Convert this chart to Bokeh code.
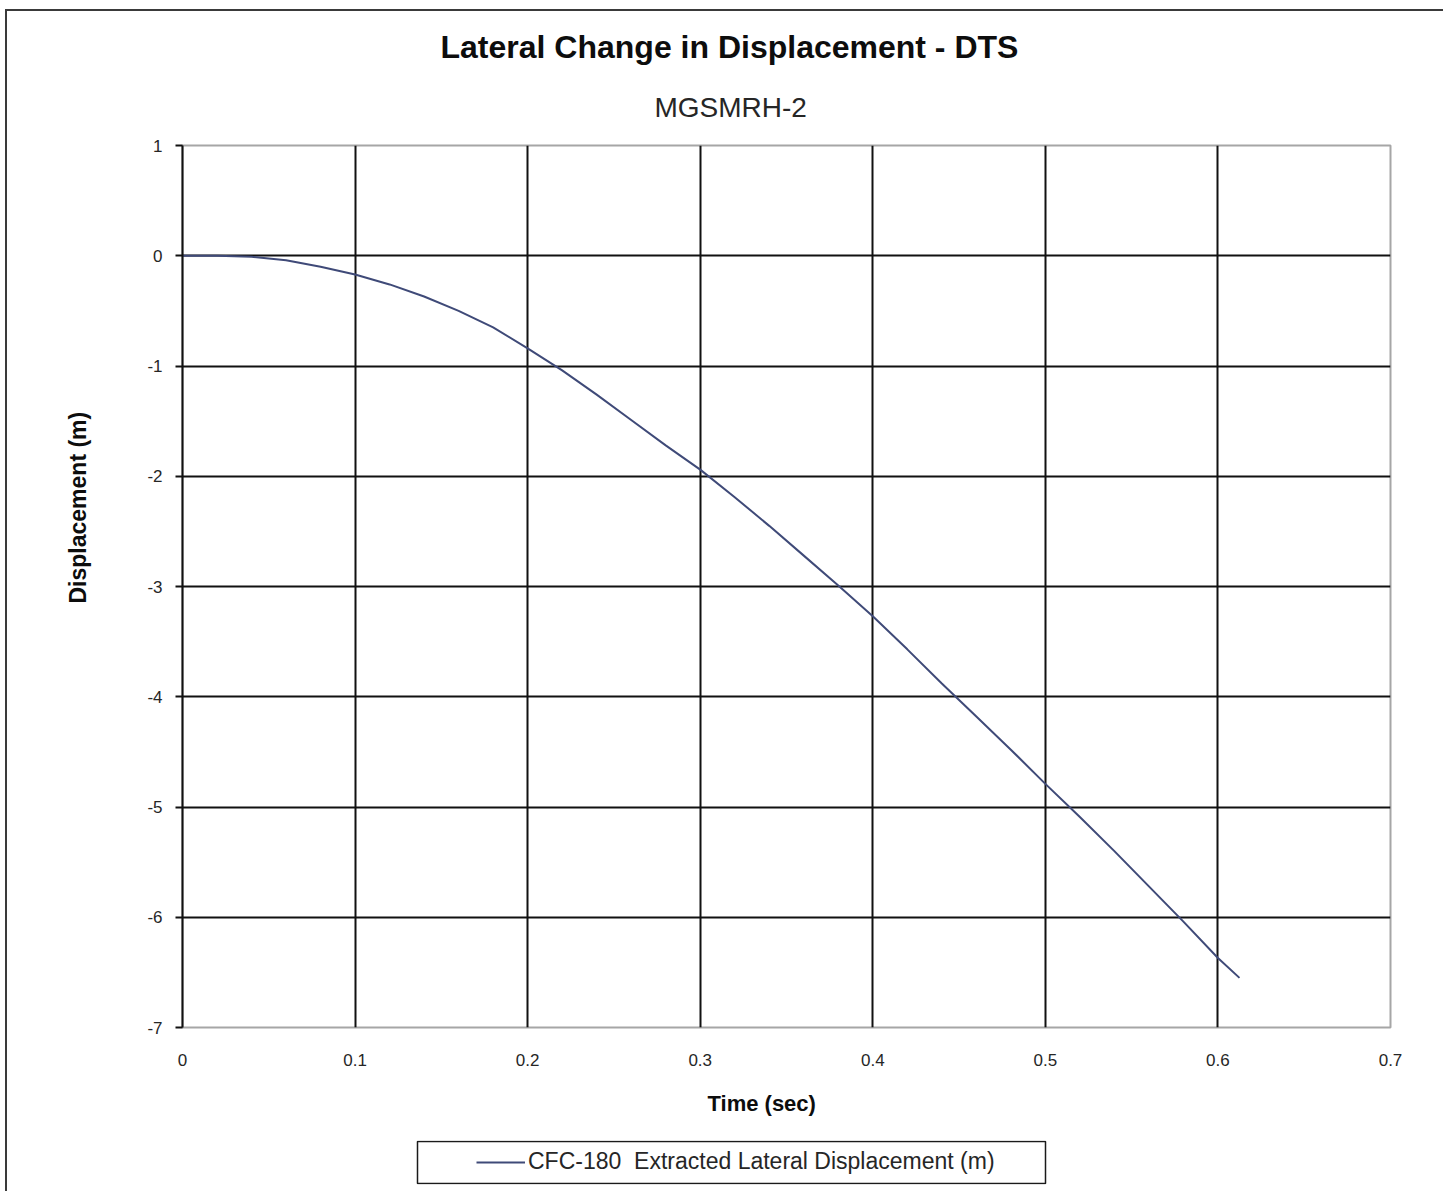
from bokeh.plotting import figure
from bokeh.layouts import column
from bokeh.models import (Range1d, FixedTicker, Legend, LegendItem, Title,
                          BoxAnnotation)
from bokeh.embed import file_html
from bokeh.resources import INLINE

# ---- data ----
time_s = [0.0, 0.02, 0.04, 0.06, 0.08, 0.10, 0.12, 0.14, 0.16, 0.18, 0.20,
          0.22, 0.24, 0.26, 0.28, 0.30, 0.32, 0.34, 0.36, 0.38, 0.40, 0.42,
          0.44, 0.46, 0.48, 0.50, 0.52, 0.54, 0.56, 0.58, 0.60, 0.6125]
disp_m = [0.0, 0.0, -0.01, -0.04, -0.10, -0.17, -0.26, -0.37, -0.50, -0.65,
          -0.84, -1.04, -1.26, -1.49, -1.72, -1.94, -2.19, -2.45, -2.72,
          -2.99, -3.27, -3.57, -3.88, -4.18, -4.48, -4.79, -5.09, -5.40,
          -5.72, -6.04, -6.37, -6.55]
x_ticks = [0, 0.1, 0.2, 0.3, 0.4, 0.5, 0.6, 0.7]
x_tick_labels = ["0", "0.1", "0.2", "0.3", "0.4", "0.5", "0.6", "0.7"]
y_ticks = [-7, -6, -5, -4, -3, -2, -1, 0, 1]
y_tick_labels = ["-7", "-6", "-5", "-4", "-3", "-2", "-1", "0", "1"]

title_text = "Lateral Change in Displacement - DTS"
subtitle_text = "MGSMRH-2"
x_title = "Time (sec)"
y_title = "Displacement (m)"
series_name = "CFC-180  Extracted Lateral Displacement (m)"
series_color = "#3f4a78"

# ---- layout (page pixels) ----
CANVAS_X, CANVAS_Y = 7, 11
W = 1436
MAIN_BOTTOM = 1139           # page y where the main canvas ends
PAGE_BOTTOM = 1191
FL, FR, FT, FB = 182, 1390, 145, 1027
LL, LR, LT, LB = 417, 1045, 1141, 1183   # legend box
FONT = "Liberation Sans"

p = figure(width=W, height=MAIN_BOTTOM - CANVAS_Y, output_backend="svg",
           toolbar_location=None,
           x_range=Range1d(0, 0.7), y_range=Range1d(-7, 1),
           min_border_left=FL - CANVAS_X, min_border_top=FT - CANVAS_Y,
           min_border_right=CANVAS_X + W - FR,
           min_border_bottom=MAIN_BOTTOM - FB)
p.background_fill_color = "white"
p.border_fill_color = "white"
p.outline_line_color = "#a6a6a6"
p.outline_line_width = 2

# axes
p.xaxis.ticker = FixedTicker(ticks=x_ticks)
p.xaxis.major_label_overrides = {t: l for t, l in zip(x_ticks, x_tick_labels)}
p.yaxis.ticker = FixedTicker(ticks=y_ticks)
p.yaxis.major_label_overrides = {t: l for t, l in zip(y_ticks, y_tick_labels)}
for ax in (p.xaxis, p.yaxis):
    ax.major_label_text_font = FONT
    ax.major_label_text_font_size = "17px"
    ax.major_label_text_color = "#262626"
    ax.minor_tick_line_color = None
p.xaxis.axis_line_color = None
p.xaxis.major_tick_line_color = None
p.xaxis.major_label_standoff = 20
p.yaxis.axis_line_color = "#111111"
p.yaxis.axis_line_width = 2
p.yaxis.major_tick_line_color = "#111111"
p.yaxis.major_tick_line_width = 2
p.yaxis.major_tick_out = 7
p.yaxis.major_tick_in = 0
p.yaxis.major_label_standoff = 13

# grid
p.xgrid.ticker = FixedTicker(ticks=x_ticks[1:-1])
p.ygrid.ticker = FixedTicker(ticks=y_ticks[1:-1])
p.xgrid.grid_line_color = "#111111"
p.ygrid.grid_line_color = "#111111"
p.xgrid.grid_line_width = 2
p.ygrid.grid_line_width = 2

# series
r = p.line(time_s, disp_m, line_color=series_color, line_width=2)

# titles (side panels stack outward from the frame; align="left" + offset)
p.add_layout(Title(text=subtitle_text, align="left", offset=654 - FL,
                   text_font=FONT, text_font_size="28px",
                   text_font_style="normal", text_color="#262626",
                   standoff=46), "above")
p.add_layout(Title(text=title_text, align="left", offset=440 - FL,
                   text_font=FONT, text_font_size="32px",
                   text_font_style="bold", text_color="#0d0d0d",
                   standoff=4), "above")
p.add_layout(Title(text=y_title, align="left", offset=FB - 603,
                   vertical_align="middle",
                   text_font=FONT, text_font_size="23px",
                   text_font_style="bold", text_color="#0d0d0d",
                   standoff=106), "left")
p.add_layout(Title(text=x_title, align="left", offset=707 - FL,
                   text_font=FONT, text_font_size="22px",
                   text_font_style="bold", text_color="#0d0d0d",
                   standoff=40), "below")

# ---- legend strip (its frame is aligned with the main frame) ----
ST, SB = LT - 1, LB + 1          # strip frame top / bottom (page px)
q = figure(width=W, height=PAGE_BOTTOM - MAIN_BOTTOM, output_backend="svg",
           toolbar_location=None, x_axis_type=None, y_axis_type=None,
           x_range=Range1d(0, 1), y_range=Range1d(1, 2),
           min_border_left=FL - CANVAS_X, min_border_right=CANVAS_X + W - FR,
           min_border_top=ST - MAIN_BOTTOM, min_border_bottom=PAGE_BOTTOM - SB)
q.grid.visible = False
q.background_fill_color = "white"
q.border_fill_color = "white"
q.outline_line_color = None


def sx(px):
    return (px - FL) / (FR - FL)


def sy(py):
    return 1 + (SB - py) / (SB - ST)


q.add_layout(BoxAnnotation(left=sx(LL), right=sx(LR), top=sy(LT), bottom=sy(LB),
                           fill_alpha=0, line_color="#1a1a1a", line_width=1.5,
                           line_alpha=1))
# same series, outside this strip's y range: only its legend glyph shows
sample = q.line(time_s, disp_m, line_color=series_color, line_width=2)
legend = Legend(items=[LegendItem(label=series_name, renderers=[sample])],
                location=(476 - FL - 8, SB - LB),
                padding=8, margin=0, spacing=0,
                glyph_width=49, glyph_height=20, label_height=24,
                label_standoff=3,
                label_text_font=FONT, label_text_font_size="23px",
                label_text_color="#262626",
                border_line_alpha=0, background_fill_alpha=0)
q.add_layout(legend)

page = column(p, q, spacing=0,
              styles={"margin-left": "5px", "margin-top": "9px",
                      "border-left": "2px solid #3a3a3a",
                      "border-top": "2px solid #3a3a3a"})

open("out.html", "w").write(file_html(page, INLINE))
